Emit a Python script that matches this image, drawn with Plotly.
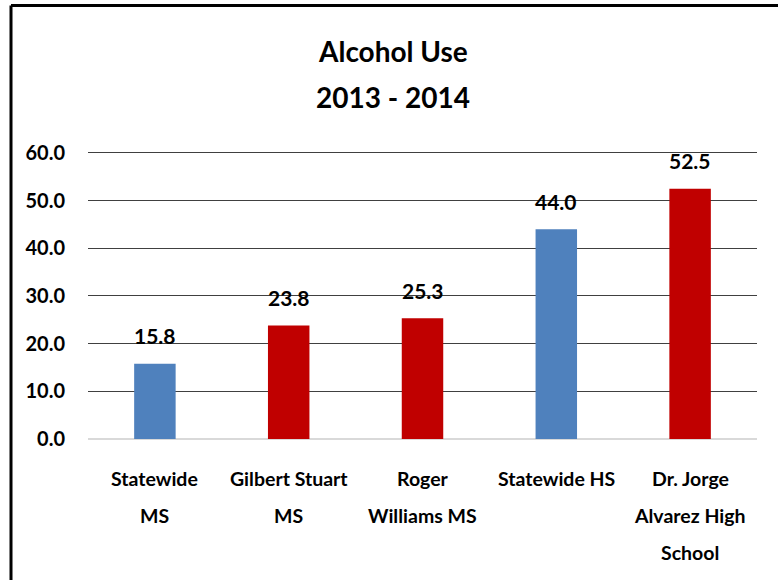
import plotly.graph_objects as go

# chart data
categories = ["Statewide MS", "Gilbert Stuart MS", "Roger Williams MS",
              "Statewide HS", "Dr. Jorge Alvarez High School"]
label_lines = [["Statewide", "MS"], ["Gilbert Stuart", "MS"], ["Roger", "Williams MS"],
               ["Statewide HS"], ["Dr. Jorge", "Alvarez High", "School"]]
values = [15.8, 23.8, 25.3, 44.0, 52.5]
is_statewide = [True, False, False, True, False]
title_lines = ["Alcohol Use", "2013 - 2014"]
y_ticks = [0, 10, 20, 30, 40, 50, 60]

BLUE = "#4F81BD"
RED = "#C00000"
FONT = "Lato, Roboto, sans-serif"

# plot-area pixel geometry (used to place paper-ref shapes/text)
W, H = 778, 580
Y_MAX = 60.6  # a bit above 60 so plotly still draws the top gridline
L, R, T, B = 88, 21, 150, 141
pw, ph = W - L - R, H - T - B


def px_x(x):
    return (x - L) / pw


def px_y(y):
    return (H - B - y) / ph


fig = go.Figure(go.Bar(
    x=categories,
    y=values,
    marker=dict(color=[BLUE if s else RED for s in is_statewide], line=dict(width=0)),
    hoverinfo="skip",
))

annotations = []
# value labels above bars
for c, v in zip(categories, values):
    annotations.append(dict(x=c, y=v, xref="x", yref="y", text=f"{v:.1f}",
                            showarrow=False, yanchor="middle", yshift=28,
                            font=dict(family=FONT, size=21, color="black", weight="bold")))
# category labels, one annotation per line for Excel-like spacing
for c, lines in zip(categories, label_lines):
    for i, line in enumerate(lines):
        annotations.append(dict(x=c, y=0, xref="x", yref="y", text=line,
                                showarrow=False, yanchor="middle", yshift=-39 - 37 * i,
                                font=dict(family=FONT, size=19.5, color="black", weight="bold")))
# two-line title
for i, line in enumerate(title_lines):
    annotations.append(dict(x=px_x(393), y=px_y(51 + 46 * i), xref="paper", yref="paper",
                            text=line, showarrow=False, yanchor="middle", xanchor="center",
                            font=dict(family=FONT, size=28, color="black", weight="bold")))

fig.update_layout(
    width=W, height=H,
    margin=dict(l=L, r=R, t=T, b=B, pad=0),
    paper_bgcolor="white",
    plot_bgcolor="white",
    showlegend=False,
    bargap=0.69,
    font=dict(family=FONT, color="black"),
    annotations=annotations,
    shapes=[
        # chart frame (only left and top edges fall inside the picture)
        dict(type="line", xref="paper", yref="paper",
             x0=px_x(11), x1=px_x(790), y0=px_y(5.5), y1=px_y(5.5),
             line=dict(color="black", width=3)),
        dict(type="line", xref="paper", yref="paper",
             x0=px_x(11), x1=px_x(11), y0=px_y(5.5), y1=px_y(590),
             line=dict(color="black", width=3)),
    ],
)
fig.update_xaxes(showticklabels=False, showgrid=False, showline=False, ticks="")
fig.update_yaxes(
    range=[0, Y_MAX],
    tickvals=y_ticks,
    tickformat=".1f",
    showgrid=True, gridcolor="#404040", gridwidth=1.3,
    zeroline=True, zerolinecolor="#D9D9D9", zerolinewidth=1.5,
    showline=False, ticks="",
    ticklabelstandoff=22,
    tickfont=dict(family=FONT, size=20, color="black", weight="bold"),
)

# drop the default 8px page margin so the figure sits at the window corner
fig.write_html("out.html", config={"displayModeBar": False},
               post_script="document.body.style.margin = '0';")
